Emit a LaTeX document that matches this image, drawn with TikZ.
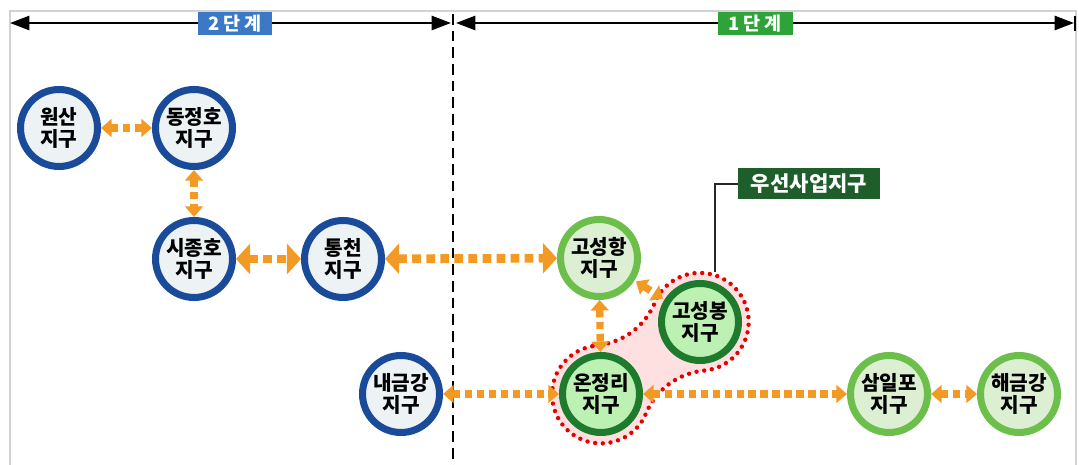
\documentclass[tikz,border=0pt]{standalone}
\usepackage{fontspec}
\setmainfont{Noto Sans CJK KR}
\usetikzlibrary{arrows.meta}

\definecolor{navy}{HTML}{1A4A9A}
\definecolor{navyfill}{HTML}{EDF2F5}
\definecolor{litegreen}{HTML}{6CBF4A}
\definecolor{darkgreen}{HTML}{1E7B2E}
\definecolor{greenfill}{HTML}{DDEFD3}
\definecolor{linkorange}{HTML}{F39A24}
\definecolor{stageblue}{HTML}{3B79C6}
\definecolor{stagegreen}{HTML}{2FA23A}
\definecolor{tagcolor}{HTML}{1D5E2A}

\tikzset{
	gu/.style={circle, minimum size=1.54cm, inner sep=0pt, line width=4pt, align=center,
		font=\bfseries\fontsize{11.5}{12.5}\selectfont},
	bluegu/.style={gu, draw=navy, fill=navyfill},
	litegu/.style={gu, draw=litegreen, fill=greenfill},
	darkgu/.style={gu, draw=darkgreen, fill=greenfill!85!green},
	link/.style={draw=linkorange, line width=4.2pt, dash pattern=on 4.2pt off 2.6pt,
		{Triangle[width=10pt,length=6pt]}-{Triangle[width=10pt,length=6pt]}},
	biglink/.style={link, line width=5pt, dash pattern=on 5pt off 3pt,
		{Triangle[width=17pt,length=8pt]}-{Triangle[width=17pt,length=8pt]}},
	stagebox/.style={minimum width=1.5cm, minimum height=0.46cm, inner sep=0pt, text=white,
		font=\bfseries\fontsize{10.5}{10.5}\selectfont},
	stageline/.style={line width=1.4pt, {Triangle[width=8pt,length=11pt]}-{Triangle[width=8pt,length=11pt]}}
}

\begin{document}
\begin{tikzpicture}[x=0.02cm, y=-0.02cm]

	\useasboundingbox (0,0) rectangle (1079,465);
	\draw[gray!35, line width=0.8pt] (10,465) -- (10,11) -- (1076,11) -- (1076,465);

	\coordinate (lend) at (10,23);
	\coordinate (dl) at (451,23);
	\coordinate (dr) at (456,23);
	\coordinate (rend) at (1074,23);
	\coordinate (dtop) at (453,14);
	\coordinate (dbot) at (453,465);

	\draw[stageline] (lend) -- (dl);
	\draw[stageline] (dr) -- (rend);
	\draw[line width=1.4pt] (1075,16) -- (1075,31);
	\draw[line width=1.3pt, dash pattern=on 6pt off 3.5pt] (dtop) -- (dbot);

	\node[stagebox, fill=stageblue] (stage2) at (235,24) {2 단 계};
	\node[stagebox, fill=stagegreen] (stage1) at (755,24) {1 단 계};

	\draw[red!90!black, fill=red!12, line width=2.5pt, line cap=round, dash pattern=on 0pt off 4.4pt]
		[shift={(601,394)}, rotate=36]
		(22,-44) .. controls (46,-28) and (76,-28) .. (100,-44)
		arc[start angle=-117, end angle=117, radius=49]
		.. controls (76,28) and (46,28) .. (22,44)
		arc[start angle=63, end angle=297, radius=49];

	\node[bluegu] (wonsan) at (59,128) {원산\\지구};
	\node[bluegu] (dongjeong) at (194,128) {동정호\\지구};
	\node[bluegu] (sijong) at (194,259) {시종호\\지구};
	\node[bluegu] (tongcheon) at (343,259) {통천\\지구};
	\node[litegu] (goseonghang) at (599,258) {고성항\\지구};
	\node[darkgu] (goseongbong) at (700,322) {고성봉\\지구};
	\node[bluegu] (naegeum) at (401,394) {내금강\\지구};
	\node[darkgu] (onjeong) at (601,394) {온정리\\지구};
	\node[litegu] (samil) at (889,394) {삼일포\\지구};
	\node[litegu] (haegeum) at (1019,394) {해금강\\지구};

	\node[fill=tagcolor, text=white, inner sep=0pt, minimum width=2.84cm, minimum height=0.62cm,
		font=\bfseries\fontsize{12}{12}\selectfont] (tag) at (809,184) {우선사업지구};
	\coordinate (bend) at (715,184);
	\coordinate (foot) at (715,272);
	\draw[line width=1.5pt, black!85] (tag.west) -- (bend) -- (foot);

	\draw[link] (wonsan) -- (dongjeong);
	\draw[link] (dongjeong) -- (sijong);
	\draw[biglink] (sijong) -- (tongcheon);
	\draw[biglink] (tongcheon) -- (goseonghang);
	\draw[link] (goseonghang) -- (onjeong);
	\draw[link, shorten <=1pt, shorten >=1pt] (goseonghang) -- (goseongbong);
	\draw[link] (naegeum) -- (onjeong);
	\draw[link] (onjeong) -- (samil);
	\draw[link] (samil) -- (haegeum);
\end{tikzpicture}
\end{document}
